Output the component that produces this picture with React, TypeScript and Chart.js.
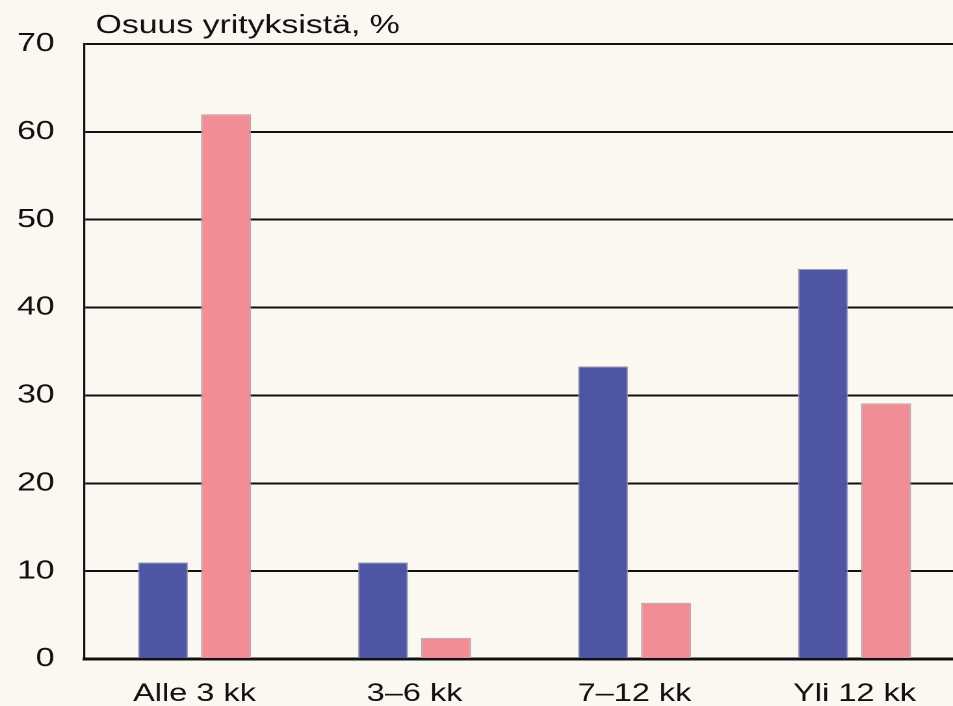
import React, { useEffect, useRef } from "react";
import { Chart, registerables } from "chart.js";

Chart.register(...registerables);

const categories = ["Alle 3 kk", "3–6 kk", "7–12 kk", "Yli 12 kk"];
const seriesBlue = [11.0, 11.0, 33.3, 44.4];
const seriesPink = [62.0, 2.4, 6.4, 29.1];
const yTicks = [0, 10, 20, 30, 40, 50, 60, 70];
const titleText = "Osuus yrityksistä, %";

const SX = 1.3;
const W = 745;
const H = 706;
const FONT = "'Liberation Sans', Arial, Helvetica, sans-serif";

export default function App() {
  const ref = useRef<HTMLCanvasElement>(null);

  useEffect(() => {
    if (!ref.current) return;
    const titlePlugin = {
      id: "cornerTitle",
      afterDraw(chart: any) {
        const { ctx, chartArea } = chart;
        ctx.save();
        ctx.font = `26px ${FONT}`;
        ctx.fillStyle = "#111";
        ctx.textBaseline = "alphabetic";
        ctx.textAlign = "left";
        ctx.fillText(titleText, chartArea.left + 8.5, 33);
        ctx.restore();
      },
    };
    const chart = new Chart(ref.current, {
      type: "bar",
      data: {
        labels: categories,
        datasets: [
          {
            data: seriesBlue,
            backgroundColor: "#4e56a3",
            borderColor: "rgba(150,150,175,0.9)",
            borderWidth: 1,
            categoryPercentage: 0.573,
            barPercentage: 0.794,
          },
          {
            data: seriesPink,
            backgroundColor: "#f08d95",
            borderColor: "rgba(175,160,160,0.9)",
            borderWidth: 1,
            categoryPercentage: 0.573,
            barPercentage: 0.794,
          },
        ],
      },
      options: {
        animation: false,
        responsive: true,
        maintainAspectRatio: false,
        devicePixelRatio: 2,
        layout: { padding: { top: 44, right: 3, left: 0, bottom: 0 } },
        plugins: {
          legend: { display: false },
          tooltip: { enabled: false },
          title: { display: false },
        },
        scales: {
          x: {
            grid: { display: false, drawTicks: false },
            border: { display: true, color: "#111", width: 3 },
            ticks: {
              color: "#111",
              font: { family: FONT, size: 25 },
              padding: 20,
              maxRotation: 0,
              autoSkip: false,
            },
            afterFit: (s: any) => {
              s.height = 47;
            },
          },
          y: {
            min: 0,
            max: 70,
            afterBuildTicks: (s: any) => {
              s.ticks = yTicks.map((v) => ({ value: v }));
            },
            grid: { color: "#111", lineWidth: 2, drawTicks: false },
            border: { display: true, color: "#111", width: 1.6 },
            ticks: {
              color: "#111",
              font: { family: FONT, size: 26 },
              padding: 23,
            },
            afterFit: (s: any) => {
              s.width = 65;
            },
          },
        },
      },
      plugins: [titlePlugin],
    } as any);
    return () => chart.destroy();
  }, []);

  return (
    <div
      style={{
        position: "fixed",
        left: 0,
        top: 0,
        width: 953,
        height: 706,
        overflow: "hidden",
        background: "#fbf7f1",
      }}
    >
      <div
        style={{
          width: W,
          height: H,
          transform: `scaleX(${SX})`,
          transformOrigin: "0 0",
        }}
      >
        <canvas ref={ref} />
      </div>
    </div>
  );
}
